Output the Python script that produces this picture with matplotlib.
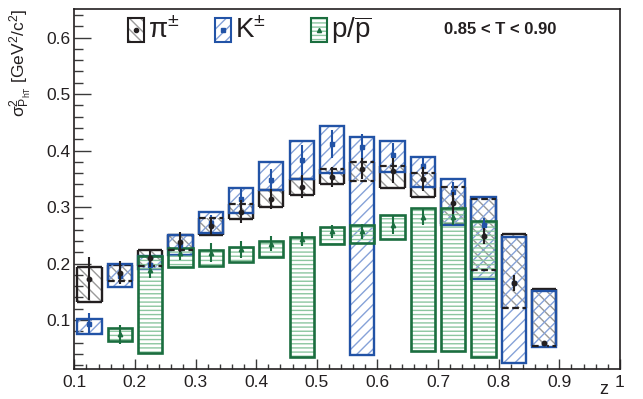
import numpy as np
import matplotlib
matplotlib.use('Agg')
import matplotlib.pyplot as plt
from matplotlib.patches import Rectangle
from matplotlib.ticker import MultipleLocator, FuncFormatter

plt.rcParams['font.family'] = ['Liberation Sans', 'DejaVu Sans']
plt.rcParams['mathtext.fontset'] = 'custom'
plt.rcParams['mathtext.rm'] = 'Liberation Sans'
plt.rcParams['mathtext.it'] = 'Liberation Sans:italic'
plt.rcParams['hatch.linewidth'] = 1.0

# bin centres in z
z = [0.125, 0.175, 0.225, 0.275, 0.325, 0.375, 0.425, 0.475,
     0.525, 0.575, 0.625, 0.675, 0.725, 0.775, 0.825, 0.875]

# pions: value, stat. error, systematic box (low, high)
pi_val = [0.173, 0.184, 0.209, 0.238, 0.267, 0.292, 0.314, 0.336,
          0.353, 0.368, 0.364, 0.349, 0.307, 0.249, 0.165, 0.059]
pi_err = [0.038, 0.020, 0.015, 0.018, 0.016, 0.020, 0.018, 0.020,
          0.018, 0.019, 0.022, 0.021, 0.019, 0.014, 0.014, 0.003]
pi_lo = [0.132, 0.169, 0.1965, 0.224, 0.251, 0.279, 0.300, 0.321,
         0.3405, 0.3464, 0.3345, 0.317, 0.270, 0.189, 0.122, 0.0544]
pi_hi = [0.193, 0.197, 0.2237, 0.251, 0.281, 0.305, 0.330, 0.349,
         0.367, 0.3795, 0.373, 0.361, 0.336, 0.314, 0.2526, 0.1547]

# kaons
k_val = [0.093, 0.178, 0.197, 0.233, 0.272, 0.315, 0.348, 0.3836,
         0.411, 0.407, 0.3924, 0.373, 0.3274, 0.2685, 0.165, 0.057]
k_err = [0.019, 0.015, 0.012, 0.012, 0.014, 0.018, 0.020, 0.027,
         0.025, 0.022, 0.021, 0.014, 0.017, 0.012, 0.012, 0.003]
k_lo = [0.075, 0.159, 0.190, 0.215, 0.254, 0.289, 0.330, 0.3494,
        0.361, 0.0384, 0.3628, 0.3352, 0.2685, 0.1724, 0.0237, 0.052]
k_hi = [0.102, 0.199, 0.214, 0.251, 0.292, 0.3345, 0.3805, 0.416,
        0.4437, 0.4248, 0.4172, 0.3894, 0.3494, 0.3175, 0.2467, 0.1522]

# protons (no points in first and last two bins)
p_z = [0.175, 0.225, 0.275, 0.325, 0.375, 0.425, 0.475,
       0.525, 0.575, 0.625, 0.675, 0.725, 0.775]
p_val = [0.075, 0.189, 0.219, 0.2195, 0.2255, 0.235, 0.243,
         0.2567, 0.2567, 0.2685, 0.2832, 0.2832, 0.250]
p_err = [0.017, 0.015, 0.013, 0.016, 0.015, 0.013, 0.012,
         0.012, 0.014, 0.016, 0.015, 0.015, 0.015]
p_lo = [0.062, 0.0414, 0.193, 0.1965, 0.2035, 0.2124, 0.0343,
        0.2343, 0.2372, 0.2432, 0.0455, 0.0455, 0.0343]
p_hi = [0.0867, 0.2137, 0.228, 0.2243, 0.230, 0.239, 0.2467,
        0.2655, 0.2685, 0.2862, 0.298, 0.299, 0.276]

c_pi, c_pi_h = '#231f20', '#9a9a9a'
c_k, c_k_h = '#2253a6', '#86a2d8'
c_p, c_p_h = '#1b6e3f', '#8cc6a0'
w = 0.04

fig = plt.figure(figsize=(6.43, 3.99), dpi=100)
ax = fig.add_axes([74.3/643, 30/399, 545.7/643, 359.7/399])

z = np.array(z)
pi_lo = np.array(pi_lo); pi_hi = np.array(pi_hi)
k_lo = np.array(k_lo); k_hi = np.array(k_hi)
p_z = np.array(p_z); p_lo = np.array(p_lo); p_hi = np.array(p_hi)

# pion boxes: hatch, then edges
ax.bar(z, pi_hi - pi_lo, bottom=pi_lo, width=w, facecolor='none',
       edgecolor=c_pi_h, hatch='\\\\\\', linewidth=0, zorder=2)
ax.vlines(z - w/2, pi_lo, pi_hi, color=c_pi, lw=1.7, zorder=2.2)
ax.vlines(z + w/2, pi_lo, pi_hi, color=c_pi, lw=1.7, zorder=2.2)
for yy in [pi_lo, pi_hi]:
    inside = (yy > k_lo + 0.002) & (yy < k_hi - 0.002)
    ax.hlines(yy[~inside], z[~inside] - w/2, z[~inside] + w/2, color=c_pi, lw=1.7, zorder=2.2)
    ax.hlines(yy[inside], z[inside] - w/2, z[inside] + w/2, color=c_pi, lw=1.6,
              linestyles=(0, (3, 1.6)), zorder=4)

# kaon boxes
ax.bar(z, k_hi - k_lo, bottom=k_lo, width=w, facecolor='none',
       edgecolor=c_k_h, hatch='///', linewidth=0, zorder=2.5)
ax.bar(z, k_hi - k_lo, bottom=k_lo, width=w, fill=False,
       edgecolor=c_k, linewidth=1.7, zorder=3)

# proton boxes
ax.bar(p_z, p_hi - p_lo, bottom=p_lo, width=w, facecolor='none',
       edgecolor=c_p_h, hatch='----', linewidth=0, zorder=3.2)
ax.bar(p_z, p_hi - p_lo, bottom=p_lo, width=w, fill=False,
       edgecolor=c_p, linewidth=1.9, zorder=3.4)

# points with stat errors
ax.errorbar(z, k_val, yerr=k_err, fmt='s', color=c_k, ms=3.2, elinewidth=1.5, capsize=0, zorder=5)
ax.errorbar(p_z, p_val, yerr=p_err, fmt='^', color=c_p, ms=3.2, elinewidth=1.5, capsize=0, zorder=5)
ax.errorbar(z, pi_val, yerr=pi_err, fmt='o', color=c_pi, ms=3.2, elinewidth=1.5, capsize=0, zorder=6)

ax.set_xlim(0.1, 1.0)
ax.set_ylim(0.0133, 0.65)
ax.xaxis.set_major_locator(MultipleLocator(0.1))
ax.xaxis.set_minor_locator(MultipleLocator(0.02))
ax.yaxis.set_major_locator(MultipleLocator(0.1))
ax.yaxis.set_minor_locator(MultipleLocator(0.02))
fmt = FuncFormatter(lambda v, p: '%g' % round(v, 2))
ax.xaxis.set_major_formatter(fmt)
ax.yaxis.set_major_formatter(fmt)
ax.tick_params(which='both', direction='in', top=False, right=False,
               colors='#3a3a3a', labelcolor='#231f20', labelsize=12.5, width=1)
ax.tick_params(axis='y', which='major', length=12, pad=3)
ax.tick_params(axis='y', which='minor', length=6.5)
ax.tick_params(axis='x', which='major', length=7, pad=4)
ax.tick_params(axis='x', which='minor', length=3.5)
for s in ax.spines.values():
    s.set_linewidth(1.2)
    s.set_color('#231f20')

fig.text(604/643, 1 - 390/399, 'z', ha='center', va='center', fontsize=13, color='#231f20')
fig.text(21/643, 1 - 9/399, r'$\mathrm{\sigma}^{2}_{\mathrm{P}_{\mathrm{hT}}}$ [GeV$^{2}$/c$^{2}$]',
         rotation=90, ha='center', va='top', fontsize=12.5, color='#231f20')

ax.text(0.78, 0.9425, '0.85 < T < 0.90', transform=ax.transAxes, ha='center', va='center',
        fontsize=12, fontweight='bold', color='#231f20')

# legend drawn by hand
leg = [(128, c_pi, c_pi_h, '\\\\\\', 'o', r'$\mathrm{\pi}^{\pm}$'),
       (215, c_k, c_k_h, '///', 's', r'K$^{\pm}$'),
       (311, c_p, c_p_h, '----', '^', r'p/$\overline{\mathrm{p}}$')]
for x0, ec, hc, ht, mk, lab in leg:
    fx = (x0 - 74.3) / 545.7
    fw = 16 / 545.7
    fy = 1 - (41.5 - 9.3) / 359.7
    fh = 24 / 359.7
    ax.add_patch(Rectangle((fx, fy), fw, fh, transform=ax.transAxes, facecolor='none',
                           edgecolor=hc, hatch=ht, lw=0, zorder=7, clip_on=False))
    ax.add_patch(Rectangle((fx, fy), fw, fh, transform=ax.transAxes, fill=False,
                           edgecolor=ec, lw=1.5, zorder=7, clip_on=False))
    ax.plot([fx + fw/2], [fy + fh/2], marker=mk, color=ec, ms=3, transform=ax.transAxes,
            zorder=8, clip_on=False)
    ax.text(fx + fw + 4/545.7, 1 - (38.5 - 9.3)/359.7, lab, transform=ax.transAxes,
            ha='left', va='baseline', fontsize=20, color='#231f20')

fig.savefig('out.png', dpi=100)
